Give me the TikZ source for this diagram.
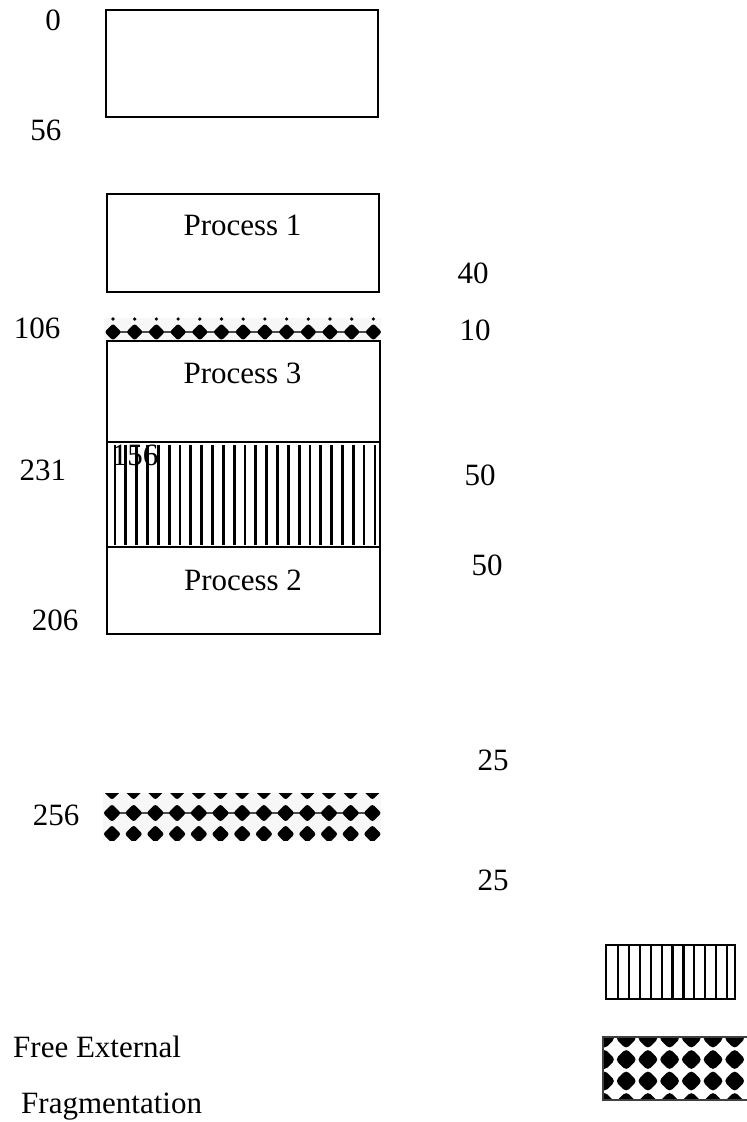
\documentclass[tikz,border=0pt]{standalone}
\usepackage{fontspec}
\setmainfont{Liberation Serif}
\begin{document}
\begin{tikzpicture}[x=1pt,y=-1pt,
  lbl/.style={font=\fontsize{31}{36}\selectfont, inner sep=0pt, anchor=base},
  lblw/.style={font=\fontsize{31}{36}\selectfont, inner sep=0pt, anchor=base west},
  membox/.style={draw, line width=1.5pt, rectangle, inner sep=0pt, outer sep=0pt},
  stripe/.style={line width=2.8pt}]
\useasboundingbox (0,0) rectangle (747,1122);

% ---- top free strip (106)
\fill[gray!6] (104,318) rectangle (381,341);
\foreach \i in {0,...,11} {
  \draw[black!70, line width=2pt] ({113+21.7*\i},332) -- ({113+21.7*\i+21.7},332);
}
\foreach \i in {0,...,12} {
  \fill[rounded corners=2.5pt] ({113+21.7*\i-8.5},332) -- ({113+21.7*\i},323.5) -- ({113+21.7*\i+8.5},332) -- ({113+21.7*\i},340.5) -- cycle;
  \fill ({113+21.7*\i},319) circle (1.8);
}

% ---- striped region between Process 3 and Process 2
\foreach \i in {0,...,24} {
  \draw[stripe] ({115+10.83*\i},445) -- ({115+10.83*\i},545);
}

% ---- bottom free strip (256)
\begin{scope}
  \clip (103,793) rectangle (381,840);
  \fill[gray!6] (103,793) rectangle (381,840);
  \foreach \i in {0,...,11} {
    \draw[black!70, line width=2pt] ({112+21.7*\i},813) -- ({112+21.7*\i+21.7},813);
  }
  \foreach \i in {0,...,12} {
    \foreach \y in {791,813,834} {
      \fill[rounded corners=2.5pt] ({112+21.7*\i-9},\y) -- ({112+21.7*\i},\y-9) -- ({112+21.7*\i+9},\y) -- ({112+21.7*\i},\y+9) -- cycle;
    }
  }
\end{scope}

% ---- memory boxes
\node[membox, minimum width=272pt, minimum height=107pt] (blk0) at (242,63.5) {};
\node[membox, minimum width=272pt, minimum height=98pt] (p1box) at (243,243) {};
\node[membox, minimum width=273pt, minimum height=101pt] (p3box) at (243.5,391.5) {};
\node[membox, minimum width=273pt, minimum height=105pt] (hole) at (243.5,494.5) {};
\node[membox, minimum width=273pt, minimum height=87pt] (p2box) at (243.5,590.5) {};

% ---- box texts
\node[lbl] (p1) at (242.5,235) {Process 1};
\node[lbl] (p3) at (242.5,383) {Process 3};
\node[lbl] (p2) at (243,590) {Process 2};

% ---- address labels (left)
\node[lbl] (a0) at (53,30) {0};
\node[lbl] (a56) at (46,140) {56};
\node[lbl] (a106) at (37,338) {106};
\node[lbl] (a231) at (43,480) {231};
\node[lbl] (a156) at (135,465) {156};
\node[lbl] (a206) at (55,630) {206};
\node[lbl] (a256) at (56,825) {256};

% ---- size labels (right)
\node[lbl] (s40) at (473,283) {40};
\node[lbl] (s10) at (475,340) {10};
\node[lbl] (s50a) at (480,485) {50};
\node[lbl] (s50b) at (487,575) {50};
\node[lbl] (s25a) at (493,770) {25};
\node[lbl] (s25b) at (493,890) {25};

% ---- legend: stripes
\foreach \i in {0,...,10} {
  \draw[line width=2.2pt] ({618+10.9*\i},945) -- ({618+10.9*\i},999);
}
\node[membox, minimum width=129pt, minimum height=54pt] (legstripe) at (670.5,972) {};

% ---- legend: checker
\begin{scope}
  \clip (603,1037) rectangle (748,1100);
  \fill[white] (603,1037) rectangle (748,1100);
  \foreach \i in {0,...,7} {
    \foreach \j in {0,...,3} {
      \fill[rounded corners=4pt] ({604.5+21.7*\i-11},{1038+21.5*\j}) -- ({604.5+21.7*\i},{1038+21.5*\j-11}) -- ({604.5+21.7*\i+11},{1038+21.5*\j}) -- ({604.5+21.7*\i},{1038+21.5*\j+11}) -- cycle;
    }
  }
\end{scope}
\node[membox, draw=black!75, minimum width=146pt, minimum height=63pt] (legcheck) at (676,1068.5) {};

\node[lblw] (free1) at (13,1057) {Free External};
\node[lblw] (free2) at (21,1113) {Fragmentation};
\end{tikzpicture}
\end{document}
